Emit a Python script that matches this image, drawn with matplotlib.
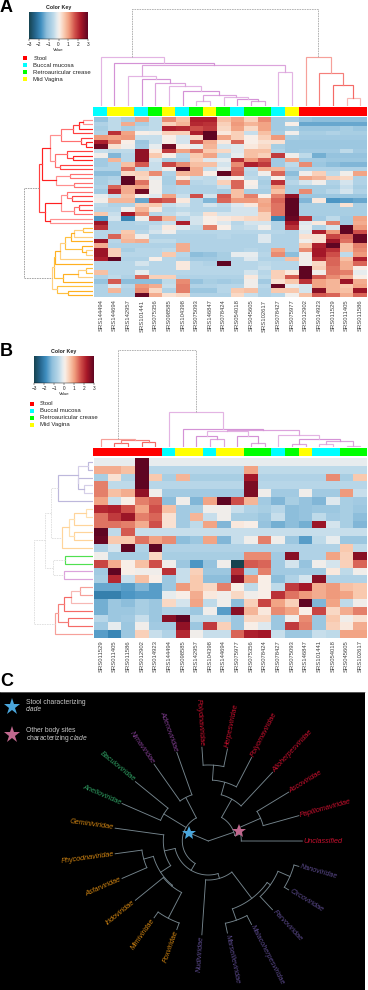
import numpy as np
import matplotlib
matplotlib.use('Agg')
import matplotlib.pyplot as plt
from matplotlib.colors import LinearSegmentedColormap, ListedColormap

plt.rcParams['font.family'] = ['Liberation Sans', 'DejaVu Sans']
plt.rcParams['mathtext.fontset'] = 'custom'
plt.rcParams['mathtext.it'] = 'Liberation Sans:italic'
plt.rcParams['mathtext.rm'] = 'Liberation Sans'

W, H = 368, 990

# ---------- panel A data ----------
sites = ['Stool', 'Buccal mucosa', 'Retroauricular crease', 'Mid Vagina']
samples_a = ['SRS144494', 'SRS144694', 'SRS142957', 'SRS101441', 'SRS075356', 'SRS098585', 'SRS104398',
             'SRS075093', 'SRS146847', 'SRS078424', 'SRS054018', 'SRS045605', 'SRS102617', 'SRS078427',
             'SRS075977', 'SRS012902', 'SRS014923', 'SRS011529', 'SRS011405', 'SRS011586']
site_a = [1, 3, 3, 1, 2, 3, 1, 2, 3, 2, 1, 2, 2, 1, 3, 0, 0, 0, 0, 0]
heat_a = [
    [-1.1, -.5, -.8, 1, -.5, 1.2, .7, 2.2, 2.2, .7, 1, .5, 1.2, -.9, -.8, -1.1, -1.2, -1.2, -1.2, -1.2],
    [-.7, -.5, .9, -.8, -.5, .5, .8, 2.1, 2.0, .5, 1.1, .8, 1.0, -.9, .1, -1.5, -1.5, -1.5, -1.5, -1.5],
    [-.8, -.5, -.8, -.6, -.5, 2.2, 2.1, 1.7, 1.9, .4, 1.0, .4, 1.0, -.9, -.8, -1, -1, -1, -.8, -1],
    [-.7, 2.0, 1.0, .1, 0, .5, .5, 2.2, 3, .2, .5, -.4, .7, -.8, 0, -.8, -.8, -.7, -.8, -.8],
    [1.1, 1.0, 1.1, -.4, -.4, .1, -.3, .4, 3, 1.0, .5, .1, .5, 1.1, -.8, -.9, -.9, -.9, -.9, -.9],
    [2.2, 1.3, .1, -1, -.4, .1, -.3, 1.7, .9, .2, 1.5, .1, .3, .3, -1, -1, -1, -1, -1, -1],
    [2.8, .3, 0, -.9, -.1, 2.8, .1, -.1, .8, -.3, -.2, .2, .4, -.8, -1, -1, -1, -1, -1, -1],
    [-.4, -.5, -.5, 2.5, .2, 1.9, 1, 1.4, .6, .4, -.2, .7, .7, -.7, -1, -.9, -.9, -.9, -.5, -.9],
    [0, -1.3, -.6, 2.5, .6, .1, -.6, .6, 1, -.5, -.1, .7, .5, 1.9, 0, -.5, -1.4, -1.1, -1.1, -1.1],
    [-.9, .8, -.6, 2.5, -.3, -.8, -.7, .5, -.2, -.1, 2, 1.1, 1.6, -.9, 1.0, -.9, -.9, -1, -1, -1],
    [-.9, -.7, .7, 1.6, -.4, 1.8, 1.2, .7, .7, -.3, 1.2, 2.2, 1.9, -.9, -.5, 1.2, -1, -1.2, -1.3, -1.3],
    [-.7, -.7, 1.4, -.6, -.4, 0, 3, .9, -.4, -.1, 1.5, -.5, .9, .8, -.7, -.7, -.7, -.7, -.7, -.7],
    [-1.2, -1.2, .4, .5, 1.2, -.7, .8, .9, .1, 3, 1.6, -.6, 0, 1.5, -1.2, 0, .5, -.5, 0, 1],
    [-.8, -.7, 3, .4, -.1, -.8, .2, -.4, -.5, -.1, .1, -.5, -.7, .1, -.8, 1.0, .8, .5, .4, -.7],
    [-.8, -.6, 3, 1.4, 0, -.8, 1.2, -.6, -.5, .5, 1.5, .1, -.8, 2, -.6, -.3, 0, -.7, -.3, -.7],
    [-.7, 1.5, .9, 1, 0, -.7, -.6, -.7, -.7, -.4, 1.5, 0, -.7, 1.0, -.8, -.8, -.8, -.8, -.4, -.8],
    [-.9, 2.1, .9, 2.8, 0, -.7, -.6, -.7, -.7, -.8, .7, -.8, -.8, .7, -.8, 1.2, -.8, -.6, -.3, -.7],
    [-.1, -.4, .7, .1, -.2, 1, -.4, 1.7, -.3, 1.6, .7, 1.3, .1, 1.3, 2.5, -1, -1, -1, -1, -1],
    [0, .8, .8, -1.5, 1.8, 1.6, .2, -.6, -1.3, 1.5, 1.1, 1.1, .9, 1.5, 3, -1.3, .2, -1.7, -1.6, -1.5],
    [-.5, -.7, -.7, .5, .6, -.4, -.3, -.6, -.3, -.5, -.2, .2, 1, 1.4, 3, -.8, -.8, -.8, .3, -.8],
    [-.6, -.6, 0, .8, .2, -.6, -.5, -.6, -.6, -.6, -.3, -.3, .9, 1.4, 3, -.8, -.8, -.8, -.8, -.8],
    [.6, -.4, 2.3, 1.2, -.6, -.5, -.3, -.5, .3, -.3, -.3, -.3, .5, 1.4, 3, -.8, -.8, -.8, -.8, -.8],
    [-1.7, -.3, -1.9, 0, 1.6, .8, -.6, -.3, .1, .2, .3, .4, .5, -1.9, 2.9, 2.0, -.9, -.5, -.9, 1],
    [2.4, -.7, -.7, -.6, -.6, -.4, 2.2, -.3, .1, -.2, -.6, -.3, -.3, -.7, 2.3, -.2, .2, 1.3, -.9, .9],
    [2, -.7, -.7, -.7, -.4, .2, -.2, -.5, 1.3, .1, -.5, -.4, 0, -.7, 2.0, -.1, -.7, -.3, 3, 1.1],
    [-.6, -.6, .6, -.6, -.3, 0, -.6, -.6, -.6, -.6, -.6, -.6, -.6, -.6, -.7, -.2, 2.2, 1.1, 3, 1.7],
    [-.6, 1.5, .7, 0, -.7, -.7, -.7, -.7, -.7, -.6, -.7, -.7, -.2, -.7, -.7, .3, .3, 1.8, 1.5, 2.9],
    [2.4, -.6, .8, .9, -.5, -.5, -.7, -.7, -.7, -.7, -.7, -.7, -.2, -.7, -.7, 0, .3, 2.4, 1.4, 2.9],
    [.9, -.7, -.7, -.7, -.7, -.7, .9, -.7, -.7, -.7, -.7, -.7, -.7, -.7, -.7, .6, 2.2, 3, .7, 1.3],
    [2.4, .5, -.8, -.6, -.6, -.5, .9, -.7, -.7, -.7, -.7, -.6, -.7, 1.0, -.7, 1.2, 2.3, 2.0, .7, 1.2],
    [2.4, .5, -.6, -.6, -.6, .6, -.6, -1.2, -1.1, -.8, -.1, -.1, -.6, 1.2, -1.2, 0, 2.3, 1.7, -.5, 1.1],
    [2.2, 3, -.7, -.7, .1, -.6, -.7, -.9, -.9, -.8, -.6, -.2, -.7, -.7, .7, 0, 2, 1.5, .7, 2.2],
    [-.6, -.6, -.6, -.3, -.6, -.6, .2, -.6, -.7, 3, -.6, -.6, -.5, -.6, -.6, 0, .4, 1.5, .9, 1.5],
    [-.6, -.6, -.6, -.6, -.6, -.6, .2, -.6, -.6, -.6, -.6, -.6, -.4, -.6, -.6, 3, .5, 1.4, .9, .1],
    [.7, -.6, -.6, -.1, -.6, -.6, -.6, -.6, -.6, -.6, -.6, -.3, -.6, .5, .2, 3, 0, 1.4, 1.3, -.1],
    [-.7, -.5, -.7, 1.5, .5, .5, -.7, -.7, -.7, -.7, -.7, .2, -.5, .5, 1.6, 3, 1.6, 1.2, .9, .1],
    [-1.1, 1.6, -1.2, -1.2, -1.2, -.5, 1.2, -1.1, -.8, -.9, -.8, 0, -.9, .3, .6, 2.0, 1, .8, 2.4, .9],
    [-.7, -.2, -.6, 1.1, .9, -.4, 1.3, -.7, -.7, -.6, -.6, 0, -.6, 2.9, -.1, -.3, 1, .8, .6, 1],
    [-.7, .8, -.7, 1.2, .4, -.7, 1.3, -1, -1, -.6, .6, .7, -.7, .6, .6, -.3, 2.6, .8, .7, 2.4],
    [-.7, -.7, -.7, 2.9, .9, .3, .4, -.7, -.7, -.7, .4, -.4, -.7, -.6, 0, .7, 1.6, 1.5, .9, 1.5],
]
# trees: (merge height, left, right), a bare int is a leaf
coltree_a = (96.7,
             (49.3, 0,
              (42.7, 1,
               (41, (30, 2, (26.7, 3, (23.3, 4, (20, 5, (15, 6,
                    (11, (5, 7, 8), (9.3, 9, (7.3, 10, (5, 11, 12))))))))),
                (34.3, 13, 14)))),
             (49.3, 15, (32.7, 16, (21, 17, (8.3, 18, 19)))))
colclade_a = ['pink'] * 15 + ['red'] * 5
rowtree_a = (69,
             (54,
              (51,
               (43,
                (32, (20, (14, (10, 0, 1), 2), 3), (12, 4, (7, 5, 6))),
                (38, (26, 7, (20, 8, 9)), (33, 10, 11))),
               (37, (23, 12, 13), (19, 14, 15))),
              (48,
               (32, (26, 16, (21, 17, 18)), (19, (14, 19, 20), 21)),
               (43, 22, 23))),
             (41,
              (39,
               (38, (33, (28, (22, (19, (10, 24, 25), 26), 27), (11, 28, (7, 29, 30))), 31), 32),
               (30, (15, (7, 33, 34), 35), 36)),
              (36, 37, (25, 38, 39))))
rowclade_a = ['red'] * 24 + ['orange'] * 16

# ---------- panel B data ----------
samples_b = ['SRS011529', 'SRS011405', 'SRS011586', 'SRS012902', 'SRS014923', 'SRS144494', 'SRS098585',
             'SRS142957', 'SRS104398', 'SRS144694', 'SRS075977', 'SRS075356', 'SRS078424', 'SRS078427',
             'SRS075093', 'SRS146847', 'SRS101441', 'SRS054018', 'SRS045605', 'SRS102617']
site_b = [0, 0, 0, 0, 0, 1, 3, 3, 1, 3, 3, 2, 2, 1, 2, 3, 1, 1, 2, 2]
heat_b = [
    [-.1, -.1, -.1, 3, -.1, -.1, -.1, -.1, -.1, -.1, -.1, -.1, -.1, -.1, -.1, -.1, -.1, -.1, -.1, -.1],
    [.9, .9, .7, 3, -.6, -.6, -.6, -.6, -.6, -.6, -.6, 1.0, -.5, -.5, -.5, -.5, -.5, -.5, -.5, -.5],
    [-.8, .3, -.7, 3, .6, -.8, .8, -.8, -.8, -.8, -.8, 2.3, -.7, -.7, -.7, -.7, -.7, 1.2, -.8, .6],
    [1.3, -.5, -.5, 3, -.6, -.6, -.6, -.6, -.6, -.6, -.6, 2.7, -.6, -.6, -.6, -.6, -.6, -.6, -.6, -.6],
    [1.3, .7, .9, 2.5, 0, -.9, -.9, -.9, -.9, -.9, -.9, 2.7, 0, -.9, -.9, 0, -.9, -.9, 1.1, -.4],
    [1.0, -.4, .1, 1.3, 1.5, -1.2, 0, -1.3, 1.0, 3, 1.7, .8, -.9, -1.3, -.8, -1.1, -1.3, -.2, -.8, -.9],
    [2.1, 2.2, 1.7, 1.0, 1.7, .7, -.9, -.8, 0, 0, -.4, -.7, -.8, -.6, -1.2, -1.1, -1, -1, -.8, -1],
    [1.4, 1.9, 2.4, 1.3, 1.5, .3, -.9, .8, -.4, 0, -.8, -.8, -1, -.4, -1.2, -1.1, -.5, -.9, -.8, -1.2],
    [1.4, 1.4, 1.3, .9, 1.7, .3, -.9, -.5, 1, -1.3, .2, .1, -1.1, -1.4, -1.2, -1.4, 2.4, -.3, -.8, -1.3],
    [3, -.5, 1.6, -.4, -.4, -.4, -.4, -.4, -.4, -.4, -.4, -.4, -.4, -.4, -.4, -.4, -.4, -.4, -.4, -.4],
    [2.9, .6, .6, 1.4, 1.0, 1.2, -1.2, -1, 1, -1.3, -.4, 0, 1.3, 0, -1, -1.6, -.5, -.1, -1, -1],
    [-.7, -.3, 3, -.7, 3, -.7, -.7, -.7, -.7, -.7, -.7, -.7, -.7, -.7, -.7, -.7, -.7, -.7, .6, -.5],
    [0, -.8, -.8, -.8, .4, -.8, -.8, -.8, -.8, -.8, -.8, 1.2, 1.2, -.9, 2.6, -.7, -.7, 1, .5, 2.6],
    [1.8, .9, .1, .7, 1.7, 0, -1, -1.7, -1.1, 0, -3, 1.6, 1.5, -.9, -.3, -1.1, 0, -.3, .5, 1.5],
    [-.9, 3, .1, 0, 0, 2, -.4, .5, -1, -1, 2, -.8, 1.3, -.9, -.9, -.9, -.9, .2, -.5, 0],
    [-.8, 2.1, -.4, .7, .1, -1, -.4, .6, -1.2, -1.2, 2.6, 1.1, .1, -1.2, -.7, -.3, 2.6, -.7, -.7, -.7],
    [-1.5, -1.5, -1.6, -1.3, -1.6, -1, 1.1, .6, .4, 1.3, .1, -.5, .1, -.5, 1.9, 2.3, .9, 1.1, .7, .6],
    [-2, -2, -1.7, -1.6, -1.6, -.1, .1, .9, .2, 0, .4, 0, .1, 2, 1.4, 1.1, .9, 1.1, 1, .6],
    [-1.4, -1, -1.2, -.8, -1, .4, -.3, 1, -.5, 0, -1.2, .5, 1.8, 1.0, .5, 3, -1.3, 1, -.5, 0],
    [-1.4, -1, -1, -.8, -1, -.7, -.7, -1, 0, -1.6, 2.6, .8, .2, 1.2, 1, .1, 1.8, .4, .9, 1.3],
    [-.6, -1, -.9, -.4, -1, 2.6, 3, -.5, -.5, -.5, -1, .4, .4, -1, 0, 1.2, -1, .6, 0, .3],
    [-.9, -.1, -1, 0, -.9, -.9, 2.5, -1, 1.9, .5, -1, .1, -.2, -1, 1.9, 1.3, -1, .5, .2, .9],
    [-1.6, -1.9, -1, .5, -.4, -.7, 2.1, 0, -.4, -.4, 1.5, 2.2, 2.3, -.4, -1, -1, -.4, -.5, 1, 1],
]
coltree_b = (97.3,
             (8, 0, (7.3, (4, 1, 2), (4.7, 3, 4))),
             (35.3, 5,
              (18.3, 6,
               (17.5,
                (16, (11, 7, (8.5, 8, 9)), (11.5, 10, (4.5, 11, 12))),
                (12, 13, (8.5, (3.5, 14, 15), (6, (3.5, 16, 17), (1.5, 18, 19))))))))
colclade_b = ['red'] * 5 + ['pink'] * 15
rowtree_b = (59,
             (48,
              (42, (35, (15, (5, 0, 1), (15, 2, (9, 3, 4))), 5),
               (31, (24, (19, (7, 6, 7), 8), (19, 9, 10)), 11)),
              (40, (28, 12, 13), (29, 14, 15))),
             (38,
              (35, (29, (22, (13, 16, 17), 18), 19), (25, 20, 21)),
              22))
rowclade_b = ['purple'] * 6 + ['paleorange'] * 6 + ['green'] * 2 + ['pink'] * 2 + ['red'] * 7

# ---------- panel C data ----------
viruses = ['Polydnaviridae', 'Herpesviridae', 'Polyomaviridae', 'Alloherpesviridae', 'Ascoviridae',
           'Papillomaviridae', 'Unclassified', 'Nanoviridae', 'Circoviridae', 'Parvoviridae',
           'Malacoherpesviridae', 'Marseilleviridae', 'Nudiviridae', 'Poxviridae', 'Mimiviridae',
           'Iridoviridae', 'Asfarviridae', 'Phycodnaviridae', 'Geminiviridae', 'Anelloviridae',
           'Baculoviridae', 'Nimaviridae', 'Adenoviridae']
virus_group = ['red'] * 7 + ['slate'] * 6 + ['orange'] * 6 + ['green'] * 2 + ['purple'] * 2
# (radius, children[, angle of the stem]), a bare int is a tip
clade_other = (27, [(48, [(61, [(76, [0, 1]), 2]), 3]), (33, [(57, [4, 5]), 6])], 19)
clade_stool = (26, [(52, [19, 20]), (49, [21, 22]),
                    (34, [(45, [(57, [(67, [16, 17]), (58, [15, (87, [13, 14])])]), 18]),
                          (39, [12, (72, [(76, [(89, [7, 8]), 9]), (84, [10, 11])])])])], -203)
phylo = (0, [clade_other, clade_stool])
star_radius = [32, 20.5]
TIP_R, FIRST_TIP, CENTRE = 94, 93.9, (208.3, 841)

# ---------- styles ----------
site_colors = ['#ff0000', '#00ffff', '#00ff00', '#ffff00']
heat_cmap = LinearSegmentedColormap.from_list('key', [
    (0.0, '#17434f'), (0.1, '#25658c'), (0.2, '#3f8ebf'), (0.3, '#8fbfdc'), (0.38, '#aed1e5'),
    (0.42, '#c0dbea'), (0.48, '#e6ecef'), (0.52, '#f9eee6'), (0.6, '#f9c9ae'), (0.68, '#f09c7d'),
    (0.78, '#d0504a'), (0.88, '#a81828'), (1.0, '#5f0522')])
palettes = {'pink': ['#dca3dc', '#e3b4e3', '#d492d6'], 'red': ['#f7b8b4', '#f6a09a', '#f57f7a', '#f56a66'],
            'orange': ['#ffb020', '#ffd080', '#ffc040'], 'paleorange': ['#ffe0b0', '#ffd49a'],
            'green': ['#50e050'], 'purple': ['#d5cfe8', '#bdb8dc'],
            'rowred': ['#ff7070', '#ff4040', '#ff2020', '#ff9090']}
label_colors = {'red': '#c8102e', 'slate': '#5b4a8c', 'orange': '#d08412', 'green': '#2f9e62', 'purple': '#7d3c8c'}
fig = plt.figure(figsize=(W / 100, H / 100), dpi=100)


def px_axes(x0, y0, x1, y1):
    ax = fig.add_axes([x0 / W, 1 - y1 / H, (x1 - x0) / W, (y1 - y0) / H])
    ax.axis('off')
    return ax


def leaves(node):
    if isinstance(node, int):
        return [node]
    return leaves(node[1]) + leaves(node[2])


def draw_tree(ax, node, clades, upright, redmap=None, mixed='#a8a8a8', depth=0):
    if isinstance(node, int):
        return node + 0.5, 0
    pa, ha = draw_tree(ax, node[1], clades, upright, redmap, mixed, depth + 1)
    pb, hb = draw_tree(ax, node[2], clades, upright, redmap, mixed, depth + 1)
    h = node[0]
    names = {clades[i] for i in leaves(node)}
    if len(names) == 1:
        name = names.pop()
        if redmap and name in redmap:
            name = redmap[name]
        col, ls, lw = palettes[name][depth % len(palettes[name])], '-', 0.85
    else:
        col, ls, lw = mixed, (0, (2, 1)), 0.6
    if upright:
        ax.plot([pa, pa, pb, pb], [ha, h, h, hb], color=col, ls=ls, lw=lw, solid_joinstyle='miter')
    else:
        ax.plot([ha, h, h, hb], [pa, pa, pb, pb], color=col, ls=ls, lw=lw, solid_joinstyle='miter')
    return (pa + pb) / 2, h


def panel(heat, names, site, coltree, colclade, rowtree, rowclade, y_tree, y_bar0, y_bar1, y_h0, y_h1, redmap, mixed):
    heat = np.array(heat)
    nr, nc = heat.shape
    ax = px_axes(94, y_h0, 367, y_h1)
    ax.pcolormesh(heat, cmap=heat_cmap, vmin=-3, vmax=3)
    ax.set_xlim(0, nc)
    ax.set_ylim(nr, 0)
    ax.axis('on')
    for s in ax.spines.values():
        s.set_visible(False)
    ax.set_yticks([])
    ax.set_xticks(np.arange(nc) + 0.5)
    ax.set_xticklabels(names, rotation=90, fontsize=4.2, color='#444444')
    ax.tick_params(length=0, pad=1.6)

    bar = px_axes(93.3, y_bar0, 367, y_bar1)
    bar.pcolormesh([site], cmap=ListedColormap(site_colors), vmin=-.5, vmax=3.5)
    bar.set_xlim(0, nc)

    top = px_axes(94, y_tree, 367, y_bar0 - 1)
    draw_tree(top, coltree, colclade, True)
    top.set_xlim(0, nc)
    top.set_ylim(0, y_bar0 - 1 - y_tree)

    left = px_axes(0, y_h0, 92.7, y_h1)
    draw_tree(left, rowtree, rowclade, False, redmap, mixed)
    left.set_xlim(92.7, 0)
    left.set_ylim(nr, 0)


def color_key(x0, y0, x1, y1, x_sq, y_leg):
    ax = px_axes(x0, y0, x1, y1)
    ax.imshow(np.linspace(-3, 3, 256)[None, :], cmap=heat_cmap, aspect='auto', extent=(-3, 3, 0, 1))
    ax.axis('on')
    for k, s in ax.spines.items():
        s.set_visible(k == 'bottom')
        s.set_linewidth(0.3)
    ax.set_yticks([])
    ax.set_xticks(range(-3, 4))
    ax.set_xticklabels([str(t).replace('-', '\u2212') for t in range(-3, 4)], fontsize=3.4, color='#222222')
    ax.tick_params(length=1.2, width=0.3, pad=0.6)
    ax.set_xlabel('Value', fontsize=3.2, labelpad=0.8, color='#222222')
    ax.set_title('Color Key', fontsize=3.8, fontweight='bold', pad=1.6, color='#222222')
    leg = px_axes(0, 0, W, H)
    leg.set_xlim(0, W)
    leg.set_ylim(H, 0)
    for i, name in enumerate(sites):
        leg.scatter(x_sq, y_leg + i * 7.05, marker='s', s=11, color=site_colors[i], linewidths=0)
        leg.text(x_sq + 8, y_leg + i * 7.05, name, fontsize=4.3, va='center', color='#222222')


def polar(r, ang):
    a = np.deg2rad(ang)
    return r * np.cos(a), r * np.sin(a)


def tip_angle(i):
    return FIRST_TIP - i * 360 / len(viruses)


def draw_phylo(ax, node):
    # returns angle and radius of a node, unwrapped so that arcs never cross the back
    if isinstance(node, int):
        return tip_angle(node), TIP_R
    kids = [draw_phylo(ax, k) for k in node[1]]
    angs = [k[0] for k in kids]
    r = node[0]
    col = '#75858d'
    if r > 0:
        t = np.linspace(min(angs), max(angs), 40)
        ax.plot(*polar(r, t), color=col, lw=0.65)
    for a, kr in kids:
        x, y = polar(np.array([r, kr]), a)
        ax.plot(x, y, color=col, lw=0.65)
    ang = node[2] if len(node) > 2 else np.mean([min(angs), max(angs)])
    return ang, r


# ---------- panels ----------
panel(heat_a, samples_a, site_a, coltree_a, colclade_a, rowtree_a, rowclade_a, 8, 107, 115.7, 117.3, 297.3,
      {'red': 'rowred'}, '#999999')
color_key(29, 11.7, 88, 39.3, 25.3, 58.3)
panel(heat_b, samples_b, site_b, coltree_b, colclade_b, rowtree_b, rowclade_b, 347, 448, 456, 458, 638,
      {}, '#dddddd')
color_key(34.3, 355.7, 93.7, 383.3, 31.8, 403.7)

cx, cy = CENTRE
axc = fig.add_axes([0, 1 - 990 / H, 365.3 / W, (990 - 692) / H])
axc.set_facecolor('black')
axc.set_xticks([])
axc.set_yticks([])
for k, s in axc.spines.items():
    s.set_visible(k == 'top')
    s.set_color('#999999')
    s.set_linewidth(0.4)
axc.set_xlim(-cx, 365.3 - cx)
axc.set_ylim(cy - 990, cy - 692)
draw_phylo(axc, phylo)
for i, name in enumerate(viruses):
    a = tip_angle(i)
    x, y = polar(TIP_R + 1.5, a)
    right = np.cos(np.deg2rad(a)) > 0
    axc.text(x, y, name, rotation=a if right else a + 180, rotation_mode='anchor', ha='left' if right else 'right',
             va='center', style='italic', fontsize=5.2, color=label_colors[virus_group[i]])
for clade, rad, col in zip([clade_other, clade_stool], star_radius, ['#c0688e', '#4aa6dc']):
    axc.plot(*polar(rad, clade[2]), marker='*', ms=10.5, color=col, mew=0, zorder=5)

# legend of panel C
axl = px_axes(0, 0, W, H)
axl.set_xlim(0, W)
axl.set_ylim(H, 0)
axl.plot(12, 707, marker='*', ms=12.5, color='#4aa6dc', mew=0)
axl.plot(12, 735, marker='*', ms=12.5, color='#c0688e', mew=0)
axl.text(26, 703, 'Stool characterizing', fontsize=4.9, color='#c8c8c8', va='center')
axl.text(26, 709.5, 'clade', fontsize=4.9, color='#c8c8c8', va='center', style='italic')
axl.text(26, 730.3, 'Other body sites', fontsize=4.9, color='#c8c8c8', va='center')
axl.text(26, 738.3, 'characterizing $\\mathit{clade}$', fontsize=4.9, color='#c8c8c8', va='center')
for letter, y in [('A', 7.5), ('B', 352), ('C', 681)]:
    axl.text(0, y, letter, fontsize=13, fontweight='bold', color='black', va='center')

fig.savefig('out.png', dpi=100)
